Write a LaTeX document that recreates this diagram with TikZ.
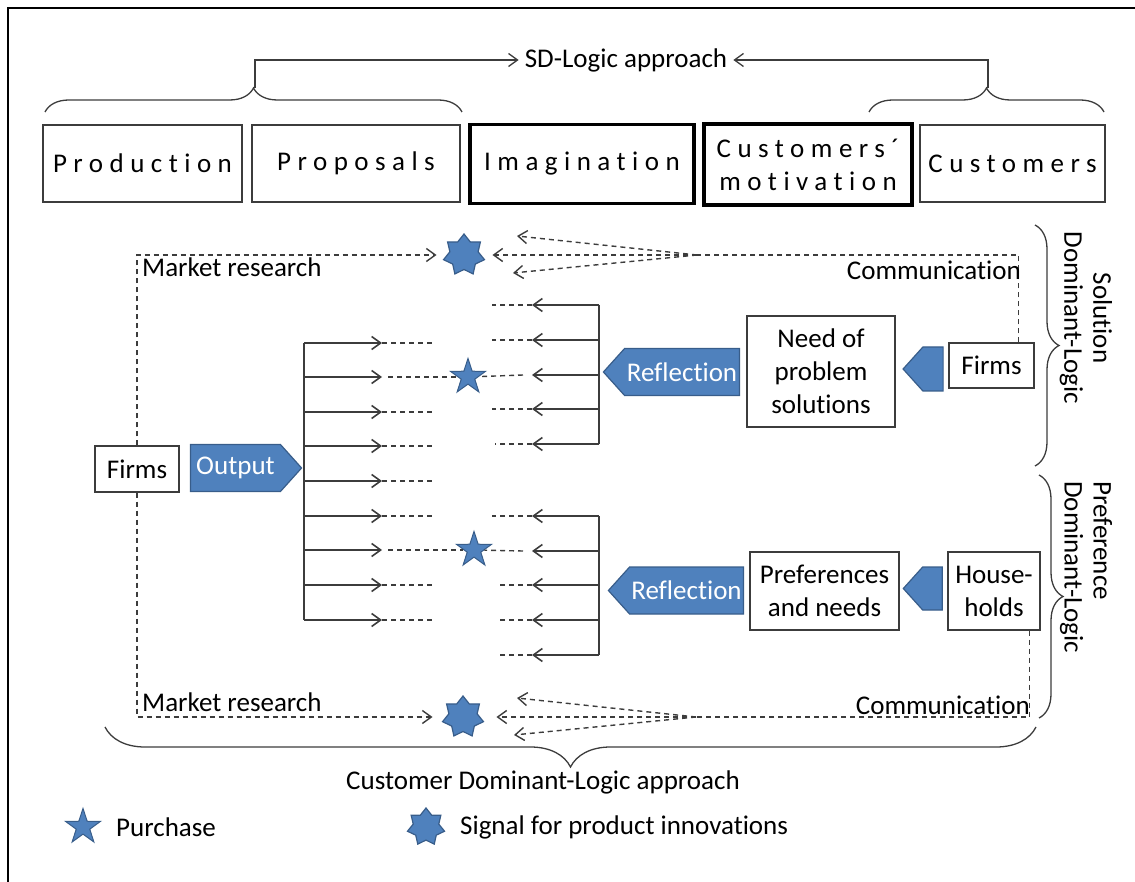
\documentclass[tikz,border=0pt]{standalone}
\usepackage{fontspec}
\setmainfont{Carlito}[Ligatures=NoCommon]
\usetikzlibrary{shapes.geometric,shapes.symbols,decorations.pathreplacing,arrows.meta}

\definecolor{fillblue}{RGB}{79,129,189}
\definecolor{edgeblue}{RGB}{56,93,138}
\definecolor{linegray}{RGB}{60,60,60}

\begin{document}
\begin{tikzpicture}[x=1pt, y=-1pt,
    font=\fontsize{27}{33}\selectfont,
    box/.style={draw=linegray, line width=1.3pt, inner sep=0pt, align=center},
    headbox/.style={box, font=\fontsize{27}{33}\selectfont\addfontfeatures{LetterSpace=24}},
    thickbox/.style={headbox, draw=black, line width=3.2pt},
    bluearrow/.style={signal, signal pointer angle=96, fill=fillblue, draw=edgeblue, line width=1.2pt, text=white, inner sep=0pt},
    buystar/.style={star, star points=5, star point ratio=2.6, fill=fillblue, draw=edgeblue, line width=1pt, minimum size=37pt, inner sep=0pt},
    ideastar/.style={star, star points=7, star point ratio=1.45, fill=fillblue, draw=edgeblue, line width=1.2pt, minimum size=42pt, inner sep=0pt},
    thinline/.style={draw=linegray, line width=1.3pt},
    fanline/.style={draw=linegray, line width=1.6pt},
    dashline/.style={draw=linegray, line width=1.4pt, dash pattern=on 5pt off 4pt},
    tip/.style={-{Straight Barb[length=9pt,width=13pt]}},
    sidelabel/.style={rotate=-90, inner sep=0pt, font=\fontsize{27}{29}\selectfont}
]
\useasboundingbox (0,0) rectangle (1135,882);

% frame
\draw[line width=2pt] (8,882) -- (8,8) -- (1135,8);

% top row of boxes
\node[headbox, minimum width=199pt, minimum height=77pt] (production) at (142.5,163.5) {Production};
\node[headbox, minimum width=208pt, minimum height=77pt] (proposals) at (356,163.5) {Proposals};
\node[thickbox, minimum width=224pt, minimum height=79pt] (imagination) at (582,164) {Imagination};
\node[thickbox, minimum width=208pt, minimum height=81pt] (motivation) at (808,164.5) {Customers´\\motivation};
\node[headbox, minimum width=185pt, minimum height=77pt] (customers) at (1012.5,163.5) {Customers};

% SD-Logic approach
\node[inner sep=6pt] (sd) at (626,60) {SD-Logic approach};
\draw[thinline, decorate, decoration={brace, amplitude=24pt}] (45,112) -- (462,112);
\draw[thinline, decorate, decoration={brace, amplitude=24pt}] (869,112) -- (1104,112);
\coordinate (lbrace) at (255,88);
\coordinate (rbrace) at (988,88);
\draw[thinline, tip] (lbrace) |- (sd);
\draw[thinline, tip] (rbrace) |- (sd);

% left side: firms and output
\node[box, minimum width=84pt, minimum height=46pt] (firmsL) at (137,469) {Firms};
\node[bluearrow, signal to=east, minimum width=111pt, minimum height=47pt] (output) at (235.5,468) {Output};

% solution dominant logic
\node[bluearrow, signal to=west, minimum width=136pt, minimum height=47pt] (reflectA) at (682,372) {Reflection};
\node[box, minimum width=148pt, minimum height=111pt] (need) at (821,371.5) {Need of\\problem\\solutions};
\node[bluearrow, signal to=west, minimum width=40pt, minimum height=44pt] (pushA) at (933,369) {};
\node[box, minimum width=85pt, minimum height=45pt] (firmsR) at (991.5,365.5) {Firms};

% preference dominant logic
\node[bluearrow, signal to=west, minimum width=135pt, minimum height=47pt] (reflectB) at (686.5,590.5) {Reflection};
\node[box, minimum width=149pt, minimum height=78pt] (prefs) at (824.5,591) {Preferences\\and needs};
\node[bluearrow, signal to=west, minimum width=39pt, minimum height=43pt] (pushB) at (932.5,588.5) {};
\node[box, minimum width=92pt, minimum height=78pt] (households) at (994,591) {House-\\holds};

% stars
\node[ideastar] (ideaA) at (464,255) {};
\node[ideastar] (ideaB) at (463,717) {};
\node[buystar] (buyA) at (468,377) {};
\node[buystar] (buyB) at (474,550) {};

% output fan
\draw[fanline] (304,343) -- (304,620);
\foreach \y in {343,377,412,446,481,516,550,585,620}
    \draw[fanline, tip] (304,\y) -- (382,\y);
\foreach \y in {343,412,446,481,516,585,620}
    \draw[dashline] (382,\y) -- (435,\y);
\draw[dashline] (388,377) -- (buyA);
\draw[dashline] (388,550) -- (buyB);

% reflection fans
\draw[fanline] (599,305) -- (599,444);
\draw[fanline] (599,516) -- (599,655);
\foreach \y in {305,340,375,409,444,516,551,585,620,655}
    \draw[fanline, tip] (599,\y) -- (532,\y);
\foreach \y/\x in {305/492,340/492,409/492,444/495,516/492,585/500,620/500,655/500}
    \draw[dashline] (532,\y) -- (\x,\y);
\draw[dashline] (523,375) -- (buyA);
\draw[dashline] (523,551) -- (buyB);

% market research
\draw[dashline, tip, shorten >=10pt] (firmsL.north) |- (ideaA);
\draw[dashline, tip, shorten >=13pt] (firmsL.south) |- (ideaB);
\node[anchor=west, inner sep=0pt] (researchA) at (142,267) {Market research};
\node[anchor=west, inner sep=0pt] (researchB) at (142,702) {Market research};

% communication
\coordinate (commA) at (697,255);
\coordinate (commB) at (696,717);
\draw[dashline] ([xshift=-16pt]firmsR.north east) |- (commA);
\draw[dashline] ([xshift=-11pt]households.south east) |- (commB);
\draw[dashline, tip] (commA) -- (517,236);
\draw[dashline, tip, shorten >=11pt] (commA) -- (ideaA);
\draw[dashline, tip] (commA) -- (513,273);
\draw[dashline, tip] (commB) -- (517,698);
\draw[dashline, tip, shorten >=16pt] (commB) -- (ideaB);
\draw[dashline, tip] (commB) -- (514,735);
\node[anchor=east, inner sep=0pt] (talkA) at (1021,270) {Communication};
\node[anchor=east, inner sep=0pt] (talkB) at (1030,705) {Communication};

% right braces
\draw[thinline, decorate, decoration={brace, amplitude=24pt}] (1035,225) -- (1035,466);
\draw[thinline, decorate, decoration={brace, amplitude=24pt}] (1039,475) -- (1039,718);
\node[sidelabel, align=center] (solution) at (1086,318) {Solution\\Dominant-Logic};
\node[sidelabel, align=left, anchor=west] (preference) at (1086,481) {Preference\\Dominant-Logic};

% customer dominant logic
\draw[thinline, decorate, decoration={brace, amplitude=40pt}] (1036,727) -- (105,727);
\node (cdl) at (543,782) {Customer Dominant-Logic approach};

% legend
\node[buystar] (legbuy) at (83,827) {};
\node[anchor=west, inner sep=0pt] (legbuytext) at (116,827) {Purchase};
\node[ideastar, minimum size=38pt] (legidea) at (426,827) {};
\node[anchor=west, inner sep=0pt] (legideatext) at (460,827) {Signal for product innovations};
\end{tikzpicture}
\end{document}
